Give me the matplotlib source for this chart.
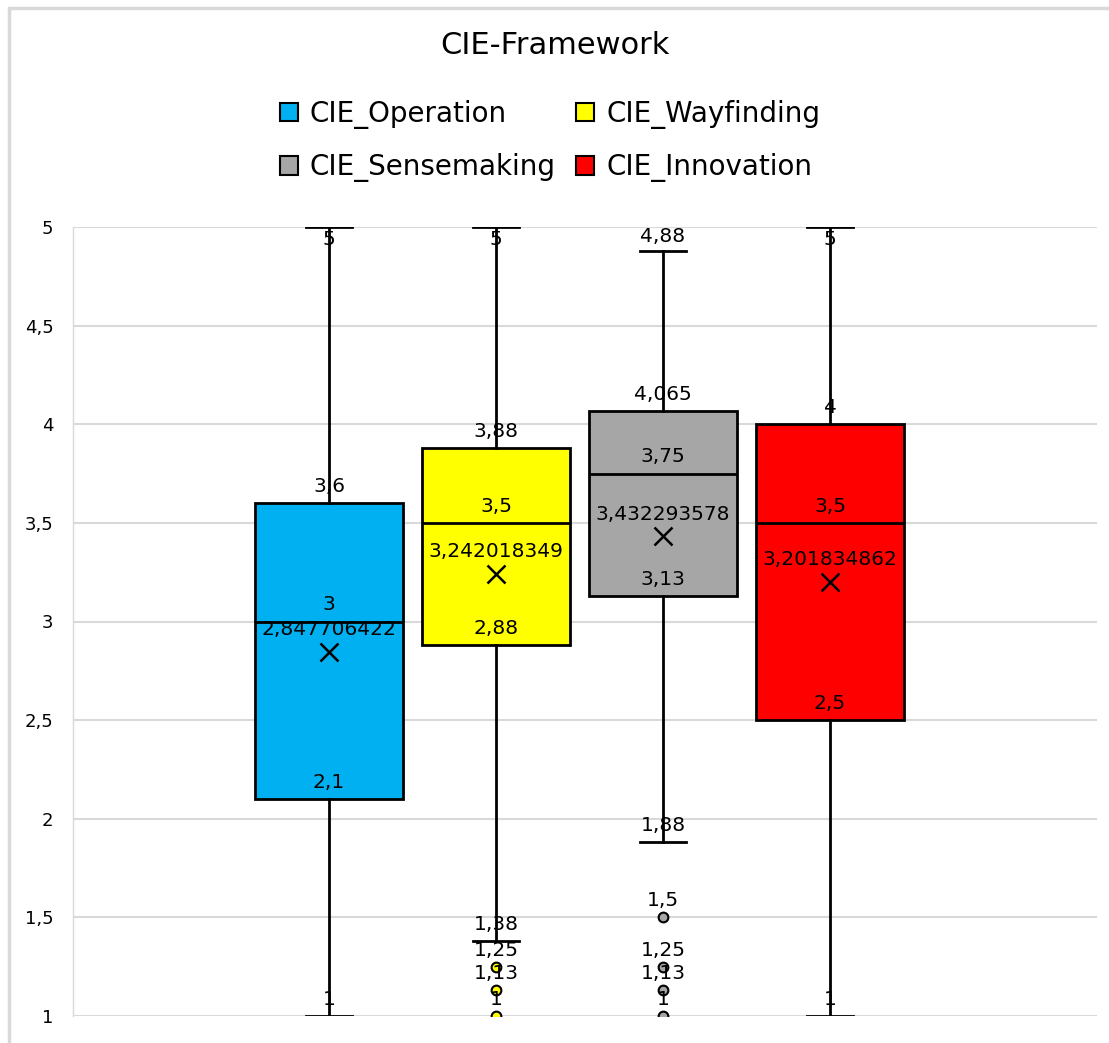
import matplotlib
matplotlib.use("Agg")
import matplotlib.pyplot as plt
from matplotlib.patches import Patch, Rectangle

# box statistics
series = ["CIE_Operation", "CIE_Wayfinding", "CIE_Sensemaking", "CIE_Innovation"]
colors = ["#00b0f0", "#ffff00", "#a6a6a6", "#ff0000"]
whislo = [1, 1.38, 1.88, 1]
q1 = [2.1, 2.88, 3.13, 2.5]
med = [3, 3.5, 3.75, 3.5]
q3 = [3.6, 3.88, 4.065, 4]
whishi = [5, 5, 4.88, 5]
means = [2.847706422, 3.242018349, 3.432293578, 3.201834862]
fliers = [[], [1.25, 1.13, 1], [1.5, 1.25, 1.13, 1], []]

yticks = [1, 1.5, 2, 2.5, 3, 3.5, 4, 4.5, 5]
ytick_labels = ["1", "1,5", "2", "2,5", "3", "3,5", "4", "4,5", "5"]

plt.rcParams["font.family"] = "DejaVu Sans"


def fmt(v):
    return f"{v:.10g}".replace(".", ",")


fig = plt.figure(figsize=(11.09, 10.43), dpi=100)
fig.patches.append(Rectangle((9 / 1109, -0.1), 1.2, 1.1 - 8 / 1043, transform=fig.transFigure,
                             fill=False, edgecolor="#d9d9d9", linewidth=2.5))
ax = fig.add_axes([73 / 1109, 1 - 1016 / 1043, (1097 - 73) / 1109, (1016 - 227) / 1043])

pos = [1, 2, 3, 4]
stats = []
for i in range(4):
    stats.append(dict(whislo=whislo[i], q1=q1[i], med=med[i], q3=q3[i], whishi=whishi[i],
                      mean=means[i], fliers=fliers[i]))

bp = ax.bxp(stats, positions=pos, widths=0.886, patch_artist=True, showmeans=True,
            showfliers=True, manage_ticks=False,
            boxprops=dict(linewidth=2, edgecolor="black"),
            medianprops=dict(color="black", linewidth=2),
            whiskerprops=dict(color="black", linewidth=2),
            capprops=dict(color="black", linewidth=2),
            meanprops=dict(marker="x", markeredgecolor="black", markersize=13, markeredgewidth=1.8))
for i, b in enumerate(bp["boxes"]):
    b.set_facecolor(colors[i])
for i, c in enumerate(bp["caps"]):
    c.set_xdata([pos[i // 2] - 0.14, pos[i // 2] + 0.14])
for i, f in enumerate(bp["fliers"]):
    f.set(marker="o", markerfacecolor=colors[i], markeredgecolor="black",
          markersize=7, markeredgewidth=1.5, zorder=3)

# data labels like Excel
lab = dict(ha="center", va="center", fontsize=14.5, zorder=5)
for i in range(4):
    x = pos[i]
    for v in [whislo[i], q1[i], med[i], q3[i]] + fliers[i]:
        ax.annotate(fmt(v), (x, v), xytext=(0, 12), textcoords="offset points", **lab)
    if whishi[i] >= 5:
        ax.annotate(fmt(whishi[i]), (x, whishi[i]), xytext=(0, -9), textcoords="offset points", **lab)
    else:
        ax.annotate(fmt(whishi[i]), (x, whishi[i]), xytext=(0, 10), textcoords="offset points", **lab)
    ax.annotate(fmt(means[i]), (x, means[i]), xytext=(0, 16), textcoords="offset points", **lab)

ax.set_xlim(1 - 256 / 167, 4 + 267 / 167)
ax.set_ylim(1, 5)
ax.set_yticks(yticks)
ax.set_yticklabels(ytick_labels, fontsize=13)
ax.tick_params(axis="y", length=0, pad=14)
ax.set_xticks([])
ax.grid(axis="y", color="#d9d9d9", linewidth=1.5)
ax.set_axisbelow(True)
for s in ["top", "right", "bottom"]:
    ax.spines[s].set_visible(False)
ax.spines["left"].set_color("#d9d9d9")
ax.spines["left"].set_linewidth(1)

fig.text(0.5, 1 - 46 / 1043, "CIE-Framework", ha="center", va="center", fontsize=22)

order = [0, 2, 1, 3]
handles = [Patch(facecolor=colors[i], edgecolor="black", linewidth=1.5) for i in order]
fig.legend(handles, [series[i] for i in order], ncol=2, loc="center",
           bbox_to_anchor=(550 / 1109, 1 - 141 / 1043), frameon=False,
           prop=dict(size=20), handlelength=0.65, handleheight=0.65,
           handletextpad=0.43, columnspacing=0.75, labelspacing=0.87,
           borderpad=0, borderaxespad=0)

fig.savefig("out.png", dpi=100)
